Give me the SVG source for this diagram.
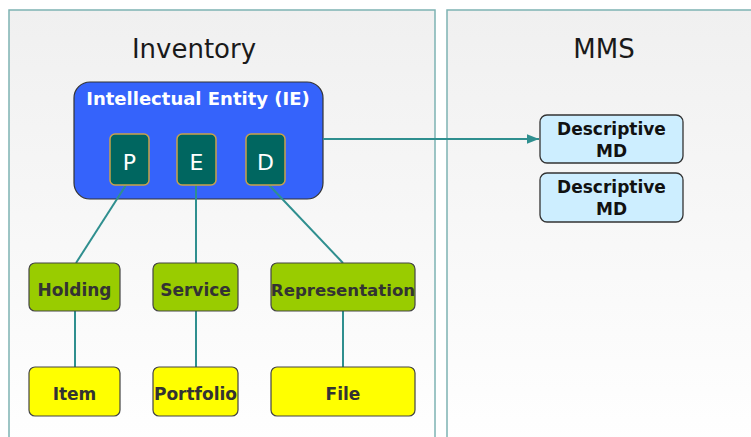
<svg xmlns="http://www.w3.org/2000/svg" width="751" height="437" viewBox="0 0 751 437">
<defs>
<linearGradient id="bg" x1="0" y1="0" x2="0" y2="1">
<stop offset="0" stop-color="#f0f0f0"/>
<stop offset="1" stop-color="#ffffff"/>
</linearGradient>
<marker id="arr" viewBox="0 0 10 10" refX="10" refY="5" markerWidth="6" markerHeight="6" orient="auto">
<path d="M0,1 L10,5 L0,9 z" fill="#2f8f8f"/>
</marker>
<style>
.panel{fill:url(#bg);stroke:#7db3b3;stroke-width:1.5}
.title{font-family:"DejaVu Sans",Verdana,sans-serif;font-size:26px;fill:#1a1a1a;text-anchor:middle}
.conn{stroke:#2f8f8f;stroke-width:2;fill:none}
.ie{fill:#3563fb;stroke:#333;stroke-width:1.2}
.ietext{font-family:"DejaVu Sans",Verdana,sans-serif;font-size:18px;font-weight:bold;fill:#fff;text-anchor:middle}
.sub{fill:#006660;stroke:#c9a24a;stroke-width:1.5}
.subtext{font-family:"DejaVu Sans",Verdana,sans-serif;font-size:22px;fill:#fff;text-anchor:middle}
.md{fill:#cdeeff;stroke:#333;stroke-width:1.3}
.mdtext{font-family:"DejaVu Sans",Verdana,sans-serif;font-size:17px;font-weight:bold;fill:#111;text-anchor:middle}
.green{fill:#99cc00;stroke:#444;stroke-width:1.2}
.yellow{fill:#ffff00;stroke:#444;stroke-width:1.2}
.btext{font-family:"DejaVu Sans",Verdana,sans-serif;font-size:17px;font-weight:bold;fill:#333;text-anchor:middle}
</style>
</defs>
<rect x="0" y="0" width="751" height="437" fill="#ffffff"/>
<g id="panel-inventory">
<rect class="panel" x="9" y="10" width="426" height="440"/>
<text class="title" x="194" y="58">Inventory</text>
</g>
<g id="panel-mms">
<rect class="panel" x="447" y="10" width="320" height="440"/>
<text class="title" x="604" y="58">MMS</text>
</g>
<g id="ie">
<rect class="ie" x="74" y="82" width="249" height="117" rx="16"/>
<text class="ietext" x="198" y="105">Intellectual Entity (IE)</text>
</g>
<g id="connectors">
<line class="conn" x1="323" y1="139" x2="539" y2="139" marker-end="url(#arr)"/>
<line class="conn" x1="126" y1="185" x2="76" y2="263"/>
<line class="conn" x1="196" y1="185" x2="196" y2="263"/>
<line class="conn" x1="269" y1="185" x2="343" y2="263"/>
<line class="conn" x1="75" y1="311" x2="75" y2="367"/>
<line class="conn" x1="196" y1="311" x2="196" y2="367"/>
<line class="conn" x1="343" y1="311" x2="343" y2="367"/>
</g>
<g id="p">
<rect class="sub" x="110" y="134" width="39" height="51" rx="5"/>
<text class="subtext" x="129.5" y="170">P</text>
</g>
<g id="e">
<rect class="sub" x="177" y="134" width="39" height="51" rx="5"/>
<text class="subtext" x="196.5" y="170">E</text>
</g>
<g id="d">
<rect class="sub" x="246" y="134" width="39" height="51" rx="5"/>
<text class="subtext" x="265.5" y="170">D</text>
</g>
<g id="md1">
<rect class="md" x="540" y="115" width="143" height="48" rx="7"/>
<text class="mdtext" x="611.5" y="135">Descriptive</text>
<text class="mdtext" x="611.5" y="157">MD</text>
</g>
<g id="md2">
<rect class="md" x="540" y="173" width="143" height="49" rx="7"/>
<text class="mdtext" x="611.5" y="193">Descriptive</text>
<text class="mdtext" x="611.5" y="215">MD</text>
</g>
<g id="holding">
<rect class="green" x="29" y="263" width="91" height="48" rx="6"/>
<text class="btext" x="74.5" y="296">Holding</text>
</g>
<g id="service">
<rect class="green" x="153" y="263" width="85" height="48" rx="6"/>
<text class="btext" x="195.5" y="296">Service</text>
</g>
<g id="representation">
<rect class="green" x="271" y="263" width="144" height="48" rx="6"/>
<text class="btext" x="343" y="296" style="font-size:16.6px">Representation</text>
</g>
<g id="item">
<rect class="yellow" x="29" y="367" width="91" height="49" rx="6"/>
<text class="btext" x="74.5" y="400">Item</text>
</g>
<g id="portfolio">
<rect class="yellow" x="153" y="367" width="85" height="49" rx="6"/>
<text class="btext" x="195.5" y="400">Portfolio</text>
</g>
<g id="file">
<rect class="yellow" x="271" y="367" width="144" height="49" rx="6"/>
<text class="btext" x="343" y="400">File</text>
</g>
</svg>
